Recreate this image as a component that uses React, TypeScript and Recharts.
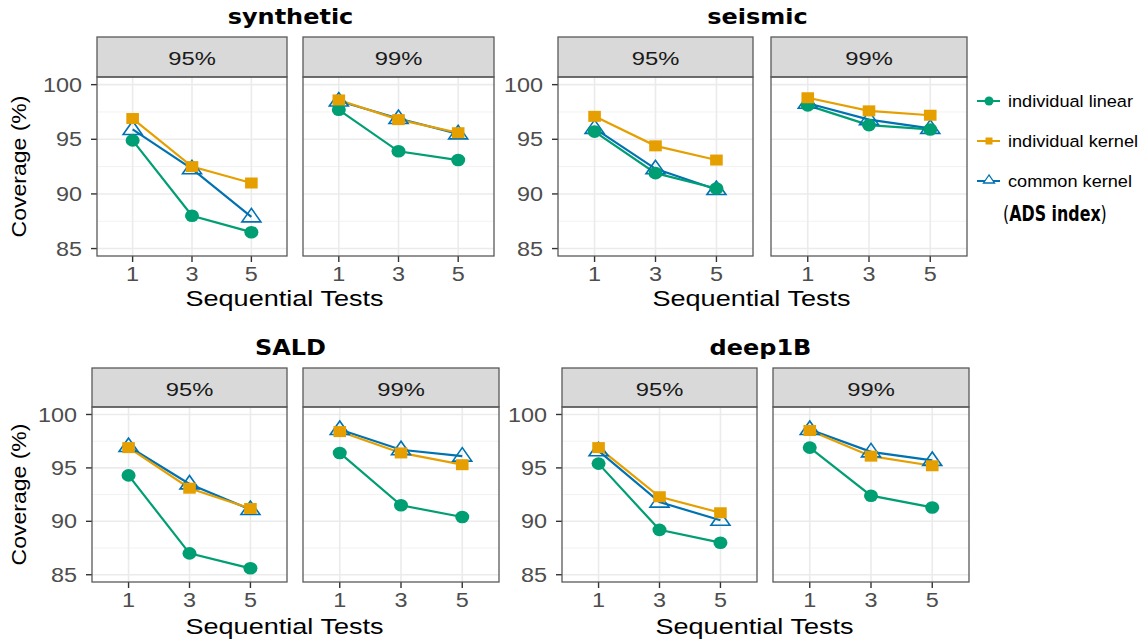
import React from "react";
import { LineChart, Line, XAxis, YAxis, ReferenceLine } from "recharts";

// tick labels / facets
const TESTS = ["1", "3", "5"];
const DATASETS = ["synthetic", "seismic", "SALD", "deep1B"];
const LEVELS = ["95%", "99%"];
const Y_TICKS = [85, 90, 95, 100];
const Y_MINOR = [87.5, 92.5, 97.5];

// one row per panel: synthetic 95/99, seismic 95/99, SALD 95/99, deep1B 95/99
const individualLinear = [
  [94.9, 88.0, 86.5],
  [97.7, 93.9, 93.1],
  [95.7, 91.9, 90.5],
  [98.1, 96.3, 95.9],
  [94.3, 87.0, 85.6],
  [96.4, 91.5, 90.4],
  [95.4, 89.2, 88.0],
  [96.9, 92.4, 91.3],
];
const individualKernel = [
  [96.9, 92.5, 91.0],
  [98.6, 96.8, 95.6],
  [97.1, 94.4, 93.1],
  [98.8, 97.6, 97.2],
  [96.9, 93.1, 91.2],
  [98.4, 96.4, 95.3],
  [96.9, 92.3, 90.8],
  [98.5, 96.1, 95.2],
];
const commonKernel = [
  [95.9, 92.3, 87.9],
  [98.5, 96.9, 95.5],
  [96.0, 92.3, 90.4],
  [98.3, 96.8, 96.0],
  [97.0, 93.5, 91.1],
  [98.6, 96.7, 96.1],
  [96.6, 91.8, 90.1],
  [98.6, 96.5, 95.7],
];

const GREEN = "#009E73";
const ORANGE = "#E69F00";
const BLUE = "#0072B2";
const FONT = "'Liberation Sans', Arial, sans-serif";
const Y_DOMAIN = [84.32, 100.7];
const Y_AXIS_W = 85;
const X_AXIS_H = 40;
const TOP_PAD = 14; // room above the plot so the "100" label stays inside the svg

const ROWS = [
  { stripTop: 37, plotTop: 77, plotBottom: 256, titleY: 24, xLabelY: 306 },
  { stripTop: 368, plotTop: 407, plotBottom: 582, titleY: 355, xLabelY: 634 },
];
const PANELS = [
  { left: 97, width: 190, row: 0, showY: true },
  { left: 303, width: 191, row: 0, showY: false },
  { left: 558, width: 195, row: 0, showY: true },
  { left: 771, width: 196, row: 0, showY: false },
  { left: 92, width: 195, row: 1, showY: true },
  { left: 303, width: 196, row: 1, showY: false },
  { left: 562, width: 195, row: 1, showY: true },
  { left: 773, width: 196, row: 1, showY: false },
];

const XTick = ({ x, y, payload }: any) => (
  <text
    transform={`translate(${x} ${y}) scale(1.2 1)`}
    textAnchor="middle"
    dy="0.71em"
    fontSize={19.5}
    fontFamily={FONT}
    fill="#4d4d4d"
  >
    {TESTS[payload.value - 1]}
  </text>
);

const YTick = ({ x, y, payload }: any) => (
  <text
    transform={`translate(${x} ${y}) scale(1.2 1)`}
    textAnchor="end"
    dy="0.36em"
    fontSize={19.5}
    fontFamily={FONT}
    fill="#4d4d4d"
  >
    {payload.value}
  </text>
);

const circleDot = (p: any) =>
  p.cy == null ? null : <ellipse key={`c${p.index}`} cx={p.cx} cy={p.cy} rx={7} ry={6.3} fill={GREEN} />;
const squareDot = (p: any) =>
  p.cy == null ? null : <rect key={`s${p.index}`} x={p.cx - 6.3} y={p.cy - 5.5} width={12.6} height={11} fill={ORANGE} />;
const triangleDot = (p: any) =>
  p.cy == null ? null : (
    <polygon
      key={`t${p.index}`}
      points={`${p.cx},${p.cy - 8.5} ${p.cx - 9.5},${p.cy + 5} ${p.cx + 9.5},${p.cy + 5}`}
      fill="none"
      stroke={BLUE}
      strokeWidth={1.6}
    />
  );

function Panel({ idx }: { idx: number }) {
  const p = PANELS[idx];
  const r = ROWS[p.row];
  const yw = p.showY ? Y_AXIS_W : 0;
  const plotH = r.plotBottom - r.plotTop;
  const data = TESTS.map((t, j) => ({
    pos: j + 1,
    linear: individualLinear[idx][j],
    kernel: individualKernel[idx][j],
    common: commonKernel[idx][j],
  }));
  return (
    <div style={{ position: "absolute", left: p.left - yw, top: r.plotTop - TOP_PAD }}>
      <LineChart
        width={yw + p.width}
        height={TOP_PAD + plotH + X_AXIS_H}
        data={data}
        margin={{ top: TOP_PAD, right: 0, bottom: 0, left: 0 }}
      >
        <XAxis
          dataKey="pos"
          type="number"
          domain={[0.4, 3.6]}
          ticks={[1, 2, 3]}
          interval={0}
          allowDataOverflow
          height={X_AXIS_H}
          axisLine={false}
          tickLine={{ stroke: "#333", strokeWidth: 1.4 }}
          tickSize={6}
          tickMargin={5}
          tick={(t: any) => <XTick {...t} />}
        />
        <YAxis
          type="number"
          domain={Y_DOMAIN}
          ticks={Y_TICKS}
          interval={0}
          allowDataOverflow
          hide={!p.showY}
          width={yw}
          axisLine={false}
          tickLine={{ stroke: "#333", strokeWidth: 1.4 }}
          tickSize={6}
          tickMargin={9}
          tick={(t: any) => <YTick {...t} />}
        />
        {Y_MINOR.map((v) => (
          <ReferenceLine key={`mn${v}`} y={v} stroke="#f2f2f2" strokeWidth={1} />
        ))}
        {Y_TICKS.map((v) => (
          <ReferenceLine key={`mj${v}`} y={v} stroke="#ebebeb" strokeWidth={1.6} />
        ))}
        {[1, 2, 3].map((v) => (
          <ReferenceLine key={`vx${v}`} x={v} stroke="#ebebeb" strokeWidth={1.6} />
        ))}
        <Line dataKey="common" stroke={BLUE} strokeWidth={2.2} dot={false} activeDot={false} isAnimationActive={false} />
        <Line dataKey="linear" stroke={GREEN} strokeWidth={2.2} dot={false} activeDot={false} isAnimationActive={false} />
        <Line dataKey="kernel" stroke={ORANGE} strokeWidth={2.2} dot={false} activeDot={false} isAnimationActive={false} />
        <Line dataKey="common" stroke="none" dot={triangleDot} activeDot={false} isAnimationActive={false} />
        <Line dataKey="linear" stroke="none" dot={circleDot} activeDot={false} isAnimationActive={false} />
        <Line dataKey="kernel" stroke="none" dot={squareDot} activeDot={false} isAnimationActive={false} />
      </LineChart>
    </div>
  );
}

function Overlay() {
  return (
    <svg width={1143} height={640} style={{ position: "absolute", left: 0, top: 0, pointerEvents: "none" }}>
      {PANELS.map((p, i) => {
        const r = ROWS[p.row];
        return (
          <g key={i}>
            <rect x={p.left} y={r.stripTop} width={p.width} height={r.plotTop - r.stripTop} fill="#d9d9d9" stroke="#595959" strokeWidth={1.3} />
            <text
              transform={`translate(${p.left + p.width / 2} ${r.stripTop + 27.5}) scale(1.25 1)`}
              textAnchor="middle"
              fontSize={19}
              fontFamily={FONT}
              fill="#1a1a1a"
            >
              {LEVELS[i % 2]}
            </text>
            <rect x={p.left} y={r.plotTop} width={p.width} height={r.plotBottom - r.plotTop} fill="none" stroke="#595959" strokeWidth={1.3} />
          </g>
        );
      })}
      {DATASETS.map((name, d) => {
        const r = ROWS[Math.floor(d / 2)];
        const left = PANELS[d * 2];
        const right = PANELS[d * 2 + 1];
        const cx = (left.left + right.left + right.width) / 2;
        return (
          <g key={name}>
            <text
              transform={`translate(${cx - 5} ${r.titleY}) scale(1.17 1)`}
              textAnchor="middle"
              fontSize={20.5}
              fontWeight="bold"
              fontFamily="'DejaVu Sans', sans-serif"
              fill="#000"
            >
              {name}
            </text>
            <text
              transform={`translate(${cx - 11} ${r.xLabelY}) scale(1.23 1)`}
              textAnchor="middle"
              fontSize={22}
              fontFamily={FONT}
              fill="#000"
            >
              Sequential Tests
            </text>
            {d % 2 === 0 && (
              <text
                transform={`translate(26 ${(r.plotTop + r.plotBottom) / 2}) scale(0.85 1) rotate(-90)`}
                textAnchor="middle"
                fontSize={23}
                fontFamily={FONT}
                fill="#000"
              >
                Coverage (%)
              </text>
            )}
          </g>
        );
      })}
      <g fontFamily={FONT} fontSize={16.5}>
        <line x1={977} x2={1000} y1={101} y2={101} stroke={GREEN} strokeWidth={2} />
        <circle cx={989} cy={101} r={4.5} fill={GREEN} />
        <text transform="translate(1008 107) scale(1.1 1)" fill="#000">individual linear</text>
        <line x1={977} x2={1000} y1={141} y2={141} stroke={ORANGE} strokeWidth={2} />
        <rect x={985.5} y={137.5} width={7} height={7} fill={ORANGE} />
        <text transform="translate(1008 147) scale(1.1 1)" fill="#000">individual kernel</text>
        <line x1={977} x2={1000} y1={181} y2={181} stroke={BLUE} strokeWidth={2} />
        <polygon points="989,175 983.5,183 994.5,183" fill="white" stroke={BLUE} strokeWidth={1.3} />
        <text transform="translate(1008 187) scale(1.1 1)" fill="#000">common kernel</text>
        <text
          transform="translate(1003 221) scale(0.86 1)"
          fontSize={20.5}
          fontFamily="'Liberation Sans Narrow', 'DejaVu Sans Condensed', sans-serif"
          fill="#000"
        >
          (<tspan fontWeight="bold">ADS index</tspan>)
        </text>
      </g>
    </svg>
  );
}

export default function App() {
  return (
    <div style={{ position: "absolute", left: 0, top: 0, width: 1143, height: 640, background: "#fff", overflow: "hidden" }}>
      {PANELS.map((_, i) => (
        <Panel key={i} idx={i} />
      ))}
      <Overlay />
    </div>
  );
}
